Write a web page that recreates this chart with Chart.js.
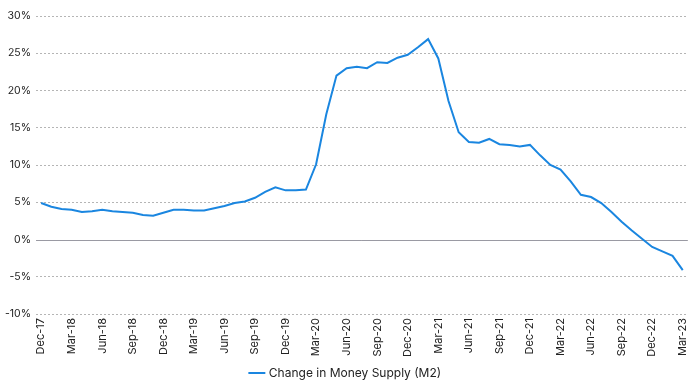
<!DOCTYPE html>
<html>
<head>
<meta charset="utf-8">
<script src="https://cdn.jsdelivr.net/npm/chart.js@4"></script>
<style>
  html, body { margin: 0; padding: 0; background: #fff; }
  #wrap { width: 700px; height: 389px; }
</style>
</head>
<body>
<div id="wrap"><canvas id="chartM2"></canvas></div>
<script>
const months = [
    'Dec-17', 'Jan-18', 'Feb-18', 'Mar-18', 'Apr-18', 'May-18', 'Jun-18', 'Jul-18', 'Aug-18', 'Sep-18', 'Oct-18', 'Nov-18',
    'Dec-18', 'Jan-19', 'Feb-19', 'Mar-19', 'Apr-19', 'May-19', 'Jun-19', 'Jul-19', 'Aug-19', 'Sep-19', 'Oct-19', 'Nov-19',
    'Dec-19', 'Jan-20', 'Feb-20', 'Mar-20', 'Apr-20', 'May-20', 'Jun-20', 'Jul-20', 'Aug-20', 'Sep-20', 'Oct-20', 'Nov-20',
    'Dec-20', 'Jan-21', 'Feb-21', 'Mar-21', 'Apr-21', 'May-21', 'Jun-21', 'Jul-21', 'Aug-21', 'Sep-21', 'Oct-21', 'Nov-21',
    'Dec-21', 'Jan-22', 'Feb-22', 'Mar-22', 'Apr-22', 'May-22', 'Jun-22', 'Jul-22', 'Aug-22', 'Sep-22', 'Oct-22', 'Nov-22',
    'Dec-22', 'Jan-23', 'Feb-23', 'Mar-23'
];

// year-over-year change in M2, %
const m2Change = [
    4.9, 4.4, 4.1, 4.0, 3.7, 3.8, 4.0, 3.8, 3.7, 3.6, 3.3, 3.2,
    3.6, 4.0, 4.0, 3.9, 3.9, 4.2, 4.5, 4.9, 5.1, 5.6, 6.4, 7.0,
    6.6, 6.6, 6.7, 10.1, 16.8, 22.0, 23.0, 23.2, 23.0, 23.8, 23.7, 24.4,
    24.8, 25.8, 26.9, 24.3, 18.6, 14.4, 13.1, 13.0, 13.5, 12.8, 12.7, 12.5,
    12.7, 11.3, 10.0, 9.4, 7.8, 6.0, 5.7, 4.9, 3.7, 2.4, 1.2, 0.1,
    -1.0, -1.6, -2.2, -4.1
];

const yTicks = [-10, -5, 0, 5, 10, 15, 20, 25, 30];

const fuente = "'Inter', 'Noto Sans', sans-serif";

// solid line at 0%
const lineaCero = {
    id: 'lineaCero',
    beforeDatasetsDraw(chart) {
        const { ctx, chartArea, scales } = chart;
        const y = Math.round(scales.y.getPixelForValue(0)) + 0.5;
        ctx.save();
        ctx.strokeStyle = '#9a9aa3';
        ctx.lineWidth = 1;
        ctx.beginPath();
        ctx.moveTo(chartArea.left, y);
        ctx.lineTo(chartArea.right, y);
        ctx.stroke();
        ctx.restore();
    }
};

new Chart(document.getElementById('chartM2'), {
    type: 'line',
    data: {
        labels: months,
        datasets: [{
            label: 'Change in Money Supply (M2)',
            data: m2Change,
            borderColor: '#1a86e0',
            backgroundColor: '#1a86e0',
            borderWidth: 2,
            pointRadius: 0,
            tension: 0
        }]
    },
    options: {
        responsive: true,
        maintainAspectRatio: false,
        animation: false,
        layout: { padding: { top: 16, right: 8, left: 0, bottom: 0 } },
        plugins: {
            legend: {
                position: 'bottom',
                labels: {
                    usePointStyle: true,
                    pointStyle: 'line',
                    boxWidth: 18,
                    padding: 6,
                    color: '#222',
                    font: { family: fuente, size: 12 }
                }
            },
            tooltip: { enabled: false }
        },
        scales: {
            x: {
                offset: true,
                grid: { display: false, drawTicks: false },
                border: { display: false },
                ticks: {
                    autoSkip: false,
                    maxRotation: 90,
                    minRotation: 90,
                    padding: 4,
                    color: '#222',
                    font: { family: fuente, size: 11 },
                    callback: function (value, index) {
                        return index % 3 === 0 ? months[index] : null;
                    }
                }
            },
            y: {
                min: -10,
                max: 30,
                afterBuildTicks: (scale) => {
                    scale.ticks = yTicks.map(v => ({ value: v }));
                },
                grid: {
                    color: (ctx) => ctx.tick && ctx.tick.value === 0 ? 'rgba(0,0,0,0)' : '#b5b5b5',
                    drawTicks: false
                },
                border: { display: false, dash: [2, 2] },
                ticks: {
                    padding: 5,
                    color: '#222',
                    font: { family: fuente, size: 10.5 },
                    callback: (v) => v + '%'
                }
            }
        }
    },
    plugins: [lineaCero]
});
</script>
</body>
</html>
